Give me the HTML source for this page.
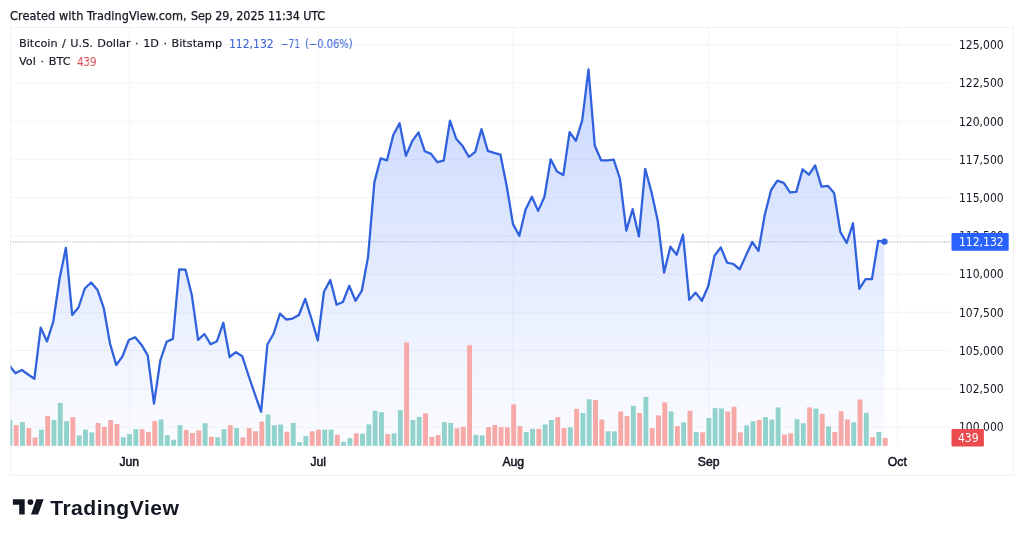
<!DOCTYPE html>
<html><head><meta charset="utf-8"><style>
html,body{margin:0;padding:0;background:#fff;width:1024px;height:539px;overflow:hidden}
.t{position:absolute;white-space:nowrap;font-family:"DejaVu Sans Condensed","DejaVu Sans",sans-serif;color:#131722}
svg{position:absolute;left:0;top:0;will-change:transform}
.t{will-change:transform;-webkit-text-stroke:0.25px currentColor}
</style></head><body>

<svg width="1024" height="539" viewBox="0 0 1024 539">
<defs><linearGradient id="g" x1="0" y1="69.4" x2="0" y2="446.0" gradientUnits="userSpaceOnUse"><stop offset="0" stop-color="#2962ff" stop-opacity="0.25"/><stop offset="1" stop-color="#2962ff" stop-opacity="0.015"/></linearGradient>
<clipPath id="pc"><rect x="10.5" y="28.0" width="940.5" height="418.0"/></clipPath></defs>
<rect x="10.5" y="27.5" width="1003" height="448" fill="none" stroke="#f1f2f4" stroke-width="1"/>
<line x1="10.5" x2="951.0" y1="44.7" y2="44.7" stroke="#f4f4f6" stroke-width="1"/>
<line x1="10.5" x2="951.0" y1="82.9" y2="82.9" stroke="#f4f4f6" stroke-width="1"/>
<line x1="10.5" x2="951.0" y1="121.2" y2="121.2" stroke="#f4f4f6" stroke-width="1"/>
<line x1="10.5" x2="951.0" y1="159.4" y2="159.4" stroke="#f4f4f6" stroke-width="1"/>
<line x1="10.5" x2="951.0" y1="197.6" y2="197.6" stroke="#f4f4f6" stroke-width="1"/>
<line x1="10.5" x2="951.0" y1="235.8" y2="235.8" stroke="#f4f4f6" stroke-width="1"/>
<line x1="10.5" x2="951.0" y1="274.1" y2="274.1" stroke="#f4f4f6" stroke-width="1"/>
<line x1="10.5" x2="951.0" y1="312.3" y2="312.3" stroke="#f4f4f6" stroke-width="1"/>
<line x1="10.5" x2="951.0" y1="350.5" y2="350.5" stroke="#f4f4f6" stroke-width="1"/>
<line x1="10.5" x2="951.0" y1="388.8" y2="388.8" stroke="#f4f4f6" stroke-width="1"/>
<line x1="10.5" x2="951.0" y1="427.0" y2="427.0" stroke="#f4f4f6" stroke-width="1"/>
<line x1="129.5" x2="129.5" y1="28.0" y2="446.0" stroke="#f4f4f6" stroke-width="1"/>
<line x1="318.3" x2="318.3" y1="28.0" y2="446.0" stroke="#f4f4f6" stroke-width="1"/>
<line x1="513.3" x2="513.3" y1="28.0" y2="446.0" stroke="#f4f4f6" stroke-width="1"/>
<line x1="708.7" x2="708.7" y1="28.0" y2="446.0" stroke="#f4f4f6" stroke-width="1"/>
<line x1="897.5" x2="897.5" y1="28.0" y2="446.0" stroke="#f4f4f6" stroke-width="1"/>
<g clip-path="url(#pc)">
<polygon points="9.2,446.0 9.2,365.5 15.5,373.3 21.8,370.0 28.1,374.5 34.4,378.8 40.7,327.7 47.0,341.4 53.3,321.5 59.6,278.5 65.9,247.8 72.2,315.0 78.5,307.5 84.8,288.5 91.1,282.5 97.4,289.7 103.7,307.8 110.0,343.5 116.2,365.0 122.5,356.3 128.8,340.0 135.1,337.2 141.4,344.7 147.7,355.4 154.0,403.7 160.3,360.5 166.6,341.8 172.9,338.9 179.2,269.4 185.5,269.7 191.8,295.0 198.1,339.8 204.4,334.0 210.7,344.3 217.0,341.2 223.3,322.8 229.6,357.0 235.9,352.2 242.2,356.2 248.5,375.5 254.8,394.0 261.1,411.9 267.4,344.5 273.7,333.5 280.0,313.7 286.3,319.5 292.6,318.6 298.9,315.0 305.2,298.9 311.5,319.0 317.8,340.4 324.0,291.7 330.3,280.0 336.6,304.7 342.9,302.0 349.2,285.8 355.5,300.8 361.8,290.7 368.1,256.6 374.4,182.1 380.7,158.3 387.0,160.3 393.3,135.0 399.6,123.3 405.9,155.8 412.2,141.2 418.5,132.4 424.8,151.3 431.1,153.9 437.4,162.2 443.7,160.7 450.0,120.7 456.3,139.0 462.6,146.1 468.9,156.8 475.2,151.9 481.5,129.1 487.8,150.9 494.1,152.9 500.4,154.6 506.7,186.0 513.0,224.1 519.3,235.8 525.6,209.5 531.9,196.8 538.1,210.9 544.4,197.0 550.7,159.3 557.0,171.6 563.3,175.1 569.6,132.1 575.9,140.9 582.2,120.4 588.5,69.4 594.8,145.8 601.1,160.3 607.4,160.4 613.7,159.7 620.0,179.0 626.3,230.6 632.6,209.2 638.9,236.4 645.2,168.8 651.5,192.2 657.8,221.0 664.1,272.5 670.4,246.7 676.7,254.7 683.0,234.8 689.3,299.8 695.6,292.6 701.9,300.8 708.2,286.2 714.5,255.7 720.8,247.5 727.1,262.6 733.4,264.0 739.7,269.3 745.9,255.6 752.2,242.0 758.5,250.8 764.8,214.7 771.1,190.0 777.4,180.6 783.7,182.9 790.0,192.3 796.3,191.9 802.6,169.3 808.9,174.7 815.2,165.5 821.5,186.6 827.8,185.8 834.1,193.0 840.4,232.2 846.7,242.9 853.0,223.3 859.3,288.9 865.6,279.2 871.9,279.2 878.2,240.8 884.5,241.6 884.5,446.0" fill="url(#g)"/>
<rect x="7.45" y="420.0" width="4.9" height="25.8" fill="#92d2cc"/>
<rect x="13.75" y="425.0" width="4.9" height="20.8" fill="#f7a9a7"/>
<rect x="20.04" y="422.1" width="4.9" height="23.7" fill="#92d2cc"/>
<rect x="26.34" y="428.1" width="4.9" height="17.7" fill="#f7a9a7"/>
<rect x="32.64" y="437.5" width="4.9" height="8.3" fill="#f7a9a7"/>
<rect x="38.93" y="429.6" width="4.9" height="16.2" fill="#92d2cc"/>
<rect x="45.23" y="416.1" width="4.9" height="29.7" fill="#f7a9a7"/>
<rect x="51.53" y="420.0" width="4.9" height="25.8" fill="#92d2cc"/>
<rect x="57.83" y="402.9" width="4.9" height="42.9" fill="#92d2cc"/>
<rect x="64.12" y="421.1" width="4.9" height="24.7" fill="#92d2cc"/>
<rect x="70.42" y="417.1" width="4.9" height="28.7" fill="#f7a9a7"/>
<rect x="76.72" y="435.4" width="4.9" height="10.4" fill="#92d2cc"/>
<rect x="83.01" y="429.6" width="4.9" height="16.2" fill="#92d2cc"/>
<rect x="89.31" y="432.3" width="4.9" height="13.5" fill="#92d2cc"/>
<rect x="95.61" y="423.0" width="4.9" height="22.8" fill="#f7a9a7"/>
<rect x="101.91" y="426.8" width="4.9" height="19.0" fill="#f7a9a7"/>
<rect x="108.20" y="420.0" width="4.9" height="25.8" fill="#f7a9a7"/>
<rect x="114.50" y="424.0" width="4.9" height="21.8" fill="#f7a9a7"/>
<rect x="120.80" y="437.2" width="4.9" height="8.6" fill="#92d2cc"/>
<rect x="127.09" y="434.1" width="4.9" height="11.7" fill="#92d2cc"/>
<rect x="133.39" y="429.2" width="4.9" height="16.6" fill="#92d2cc"/>
<rect x="139.69" y="429.1" width="4.9" height="16.7" fill="#f7a9a7"/>
<rect x="145.98" y="432.0" width="4.9" height="13.8" fill="#f7a9a7"/>
<rect x="152.28" y="421.1" width="4.9" height="24.7" fill="#f7a9a7"/>
<rect x="158.58" y="419.5" width="4.9" height="26.3" fill="#92d2cc"/>
<rect x="164.88" y="435.1" width="4.9" height="10.7" fill="#92d2cc"/>
<rect x="171.17" y="439.8" width="4.9" height="6.0" fill="#92d2cc"/>
<rect x="177.47" y="425.2" width="4.9" height="20.6" fill="#92d2cc"/>
<rect x="183.77" y="429.9" width="4.9" height="15.9" fill="#f7a9a7"/>
<rect x="190.06" y="433.0" width="4.9" height="12.8" fill="#f7a9a7"/>
<rect x="196.36" y="430.4" width="4.9" height="15.4" fill="#f7a9a7"/>
<rect x="202.66" y="423.2" width="4.9" height="22.6" fill="#92d2cc"/>
<rect x="208.95" y="436.7" width="4.9" height="9.1" fill="#f7a9a7"/>
<rect x="215.25" y="437.2" width="4.9" height="8.6" fill="#92d2cc"/>
<rect x="221.55" y="429.2" width="4.9" height="16.6" fill="#92d2cc"/>
<rect x="227.84" y="425.2" width="4.9" height="20.6" fill="#f7a9a7"/>
<rect x="234.14" y="428.1" width="4.9" height="17.7" fill="#92d2cc"/>
<rect x="240.44" y="437.5" width="4.9" height="8.3" fill="#f7a9a7"/>
<rect x="246.74" y="428.1" width="4.9" height="17.7" fill="#f7a9a7"/>
<rect x="253.03" y="431.3" width="4.9" height="14.5" fill="#f7a9a7"/>
<rect x="259.33" y="421.6" width="4.9" height="24.2" fill="#f7a9a7"/>
<rect x="265.63" y="414.6" width="4.9" height="31.2" fill="#92d2cc"/>
<rect x="271.92" y="425.2" width="4.9" height="20.6" fill="#92d2cc"/>
<rect x="278.22" y="424.5" width="4.9" height="21.3" fill="#92d2cc"/>
<rect x="284.52" y="431.7" width="4.9" height="14.1" fill="#f7a9a7"/>
<rect x="290.81" y="422.9" width="4.9" height="22.9" fill="#92d2cc"/>
<rect x="297.11" y="442.2" width="4.9" height="3.6" fill="#92d2cc"/>
<rect x="303.41" y="436.1" width="4.9" height="9.7" fill="#92d2cc"/>
<rect x="309.71" y="431.3" width="4.9" height="14.5" fill="#f7a9a7"/>
<rect x="316.00" y="429.6" width="4.9" height="16.2" fill="#f7a9a7"/>
<rect x="322.30" y="429.6" width="4.9" height="16.2" fill="#92d2cc"/>
<rect x="328.60" y="429.6" width="4.9" height="16.2" fill="#92d2cc"/>
<rect x="334.89" y="434.8" width="4.9" height="11.0" fill="#f7a9a7"/>
<rect x="341.19" y="441.8" width="4.9" height="4.0" fill="#92d2cc"/>
<rect x="347.49" y="438.2" width="4.9" height="7.6" fill="#92d2cc"/>
<rect x="353.78" y="433.3" width="4.9" height="12.5" fill="#f7a9a7"/>
<rect x="360.08" y="433.7" width="4.9" height="12.1" fill="#92d2cc"/>
<rect x="366.38" y="424.4" width="4.9" height="21.4" fill="#92d2cc"/>
<rect x="372.68" y="410.7" width="4.9" height="35.1" fill="#92d2cc"/>
<rect x="378.97" y="412.2" width="4.9" height="33.6" fill="#92d2cc"/>
<rect x="385.27" y="434.1" width="4.9" height="11.7" fill="#f7a9a7"/>
<rect x="391.57" y="433.3" width="4.9" height="12.5" fill="#92d2cc"/>
<rect x="397.86" y="410.2" width="4.9" height="35.6" fill="#92d2cc"/>
<rect x="404.16" y="342.4" width="4.9" height="103.4" fill="#f7a9a7"/>
<rect x="410.46" y="420.0" width="4.9" height="25.8" fill="#92d2cc"/>
<rect x="416.75" y="416.9" width="4.9" height="28.9" fill="#92d2cc"/>
<rect x="423.05" y="413.3" width="4.9" height="32.5" fill="#f7a9a7"/>
<rect x="429.35" y="436.9" width="4.9" height="8.9" fill="#f7a9a7"/>
<rect x="435.65" y="435.1" width="4.9" height="10.7" fill="#f7a9a7"/>
<rect x="441.94" y="422.1" width="4.9" height="23.7" fill="#92d2cc"/>
<rect x="448.24" y="422.9" width="4.9" height="22.9" fill="#92d2cc"/>
<rect x="454.54" y="428.3" width="4.9" height="17.5" fill="#f7a9a7"/>
<rect x="460.83" y="426.8" width="4.9" height="19.0" fill="#f7a9a7"/>
<rect x="467.13" y="345.2" width="4.9" height="100.6" fill="#f7a9a7"/>
<rect x="473.43" y="434.8" width="4.9" height="11.0" fill="#92d2cc"/>
<rect x="479.72" y="435.4" width="4.9" height="10.4" fill="#92d2cc"/>
<rect x="486.02" y="427.2" width="4.9" height="18.6" fill="#f7a9a7"/>
<rect x="492.32" y="425.0" width="4.9" height="20.8" fill="#f7a9a7"/>
<rect x="498.62" y="427.1" width="4.9" height="18.7" fill="#f7a9a7"/>
<rect x="504.91" y="427.3" width="4.9" height="18.5" fill="#f7a9a7"/>
<rect x="511.21" y="404.3" width="4.9" height="41.5" fill="#f7a9a7"/>
<rect x="517.51" y="426.1" width="4.9" height="19.7" fill="#f7a9a7"/>
<rect x="523.80" y="432.0" width="4.9" height="13.8" fill="#92d2cc"/>
<rect x="530.10" y="428.9" width="4.9" height="16.9" fill="#92d2cc"/>
<rect x="536.40" y="428.9" width="4.9" height="16.9" fill="#f7a9a7"/>
<rect x="542.69" y="424.4" width="4.9" height="21.4" fill="#92d2cc"/>
<rect x="548.99" y="420.0" width="4.9" height="25.8" fill="#92d2cc"/>
<rect x="555.29" y="417.1" width="4.9" height="28.7" fill="#f7a9a7"/>
<rect x="561.59" y="428.1" width="4.9" height="17.7" fill="#f7a9a7"/>
<rect x="567.88" y="427.3" width="4.9" height="18.5" fill="#92d2cc"/>
<rect x="574.18" y="408.8" width="4.9" height="37.0" fill="#f7a9a7"/>
<rect x="580.48" y="413.0" width="4.9" height="32.8" fill="#92d2cc"/>
<rect x="586.77" y="399.3" width="4.9" height="46.5" fill="#92d2cc"/>
<rect x="593.07" y="400.1" width="4.9" height="45.7" fill="#f7a9a7"/>
<rect x="599.37" y="419.5" width="4.9" height="26.3" fill="#f7a9a7"/>
<rect x="605.66" y="431.3" width="4.9" height="14.5" fill="#92d2cc"/>
<rect x="611.96" y="431.3" width="4.9" height="14.5" fill="#92d2cc"/>
<rect x="618.26" y="411.5" width="4.9" height="34.3" fill="#f7a9a7"/>
<rect x="624.56" y="416.1" width="4.9" height="29.7" fill="#f7a9a7"/>
<rect x="630.85" y="405.7" width="4.9" height="40.1" fill="#92d2cc"/>
<rect x="637.15" y="413.0" width="4.9" height="32.8" fill="#f7a9a7"/>
<rect x="643.45" y="397.0" width="4.9" height="48.8" fill="#92d2cc"/>
<rect x="649.74" y="428.1" width="4.9" height="17.7" fill="#f7a9a7"/>
<rect x="656.04" y="415.4" width="4.9" height="30.4" fill="#f7a9a7"/>
<rect x="662.34" y="402.4" width="4.9" height="43.4" fill="#f7a9a7"/>
<rect x="668.63" y="411.5" width="4.9" height="34.3" fill="#92d2cc"/>
<rect x="674.93" y="426.1" width="4.9" height="19.7" fill="#f7a9a7"/>
<rect x="681.23" y="422.3" width="4.9" height="23.5" fill="#92d2cc"/>
<rect x="687.53" y="410.7" width="4.9" height="35.1" fill="#f7a9a7"/>
<rect x="693.82" y="432.0" width="4.9" height="13.8" fill="#92d2cc"/>
<rect x="700.12" y="432.3" width="4.9" height="13.5" fill="#f7a9a7"/>
<rect x="706.42" y="418.0" width="4.9" height="27.8" fill="#92d2cc"/>
<rect x="712.71" y="408.1" width="4.9" height="37.7" fill="#92d2cc"/>
<rect x="719.01" y="408.4" width="4.9" height="37.4" fill="#92d2cc"/>
<rect x="725.31" y="411.5" width="4.9" height="34.3" fill="#f7a9a7"/>
<rect x="731.60" y="406.7" width="4.9" height="39.1" fill="#f7a9a7"/>
<rect x="737.90" y="432.3" width="4.9" height="13.5" fill="#f7a9a7"/>
<rect x="744.20" y="425.4" width="4.9" height="20.4" fill="#92d2cc"/>
<rect x="750.50" y="421.3" width="4.9" height="24.5" fill="#92d2cc"/>
<rect x="756.79" y="420.0" width="4.9" height="25.8" fill="#f7a9a7"/>
<rect x="763.09" y="417.1" width="4.9" height="28.7" fill="#92d2cc"/>
<rect x="769.39" y="419.5" width="4.9" height="26.3" fill="#92d2cc"/>
<rect x="775.68" y="407.4" width="4.9" height="38.4" fill="#92d2cc"/>
<rect x="781.98" y="434.6" width="4.9" height="11.2" fill="#f7a9a7"/>
<rect x="788.28" y="433.3" width="4.9" height="12.5" fill="#f7a9a7"/>
<rect x="794.57" y="419.2" width="4.9" height="26.6" fill="#92d2cc"/>
<rect x="800.87" y="423.2" width="4.9" height="22.6" fill="#92d2cc"/>
<rect x="807.17" y="407.4" width="4.9" height="38.4" fill="#f7a9a7"/>
<rect x="813.47" y="408.6" width="4.9" height="37.2" fill="#92d2cc"/>
<rect x="819.76" y="413.8" width="4.9" height="32.0" fill="#f7a9a7"/>
<rect x="826.06" y="426.3" width="4.9" height="19.5" fill="#92d2cc"/>
<rect x="832.36" y="432.0" width="4.9" height="13.8" fill="#f7a9a7"/>
<rect x="838.65" y="411.2" width="4.9" height="34.6" fill="#f7a9a7"/>
<rect x="844.95" y="419.5" width="4.9" height="26.3" fill="#f7a9a7"/>
<rect x="851.25" y="422.3" width="4.9" height="23.5" fill="#92d2cc"/>
<rect x="857.54" y="399.5" width="4.9" height="46.3" fill="#f7a9a7"/>
<rect x="863.84" y="412.8" width="4.9" height="33.0" fill="#92d2cc"/>
<rect x="870.14" y="437.2" width="4.9" height="8.6" fill="#f7a9a7"/>
<rect x="876.44" y="432.0" width="4.9" height="13.8" fill="#92d2cc"/>
<rect x="882.73" y="437.9" width="4.9" height="7.9" fill="#f7a9a7"/>
<line x1="10.5" x2="951.0" y1="241.9" y2="241.9" stroke="#a3aac4" stroke-width="1" stroke-dasharray="1.2 1.25"/>
<polyline points="9.2,365.5 15.5,373.3 21.8,370.0 28.1,374.5 34.4,378.8 40.7,327.7 47.0,341.4 53.3,321.5 59.6,278.5 65.9,247.8 72.2,315.0 78.5,307.5 84.8,288.5 91.1,282.5 97.4,289.7 103.7,307.8 110.0,343.5 116.2,365.0 122.5,356.3 128.8,340.0 135.1,337.2 141.4,344.7 147.7,355.4 154.0,403.7 160.3,360.5 166.6,341.8 172.9,338.9 179.2,269.4 185.5,269.7 191.8,295.0 198.1,339.8 204.4,334.0 210.7,344.3 217.0,341.2 223.3,322.8 229.6,357.0 235.9,352.2 242.2,356.2 248.5,375.5 254.8,394.0 261.1,411.9 267.4,344.5 273.7,333.5 280.0,313.7 286.3,319.5 292.6,318.6 298.9,315.0 305.2,298.9 311.5,319.0 317.8,340.4 324.0,291.7 330.3,280.0 336.6,304.7 342.9,302.0 349.2,285.8 355.5,300.8 361.8,290.7 368.1,256.6 374.4,182.1 380.7,158.3 387.0,160.3 393.3,135.0 399.6,123.3 405.9,155.8 412.2,141.2 418.5,132.4 424.8,151.3 431.1,153.9 437.4,162.2 443.7,160.7 450.0,120.7 456.3,139.0 462.6,146.1 468.9,156.8 475.2,151.9 481.5,129.1 487.8,150.9 494.1,152.9 500.4,154.6 506.7,186.0 513.0,224.1 519.3,235.8 525.6,209.5 531.9,196.8 538.1,210.9 544.4,197.0 550.7,159.3 557.0,171.6 563.3,175.1 569.6,132.1 575.9,140.9 582.2,120.4 588.5,69.4 594.8,145.8 601.1,160.3 607.4,160.4 613.7,159.7 620.0,179.0 626.3,230.6 632.6,209.2 638.9,236.4 645.2,168.8 651.5,192.2 657.8,221.0 664.1,272.5 670.4,246.7 676.7,254.7 683.0,234.8 689.3,299.8 695.6,292.6 701.9,300.8 708.2,286.2 714.5,255.7 720.8,247.5 727.1,262.6 733.4,264.0 739.7,269.3 745.9,255.6 752.2,242.0 758.5,250.8 764.8,214.7 771.1,190.0 777.4,180.6 783.7,182.9 790.0,192.3 796.3,191.9 802.6,169.3 808.9,174.7 815.2,165.5 821.5,186.6 827.8,185.8 834.1,193.0 840.4,232.2 846.7,242.9 853.0,223.3 859.3,288.9 865.6,279.2 871.9,279.2 878.2,240.8 884.5,241.6" fill="none" stroke="#3062dd" stroke-width="2.3" stroke-linejoin="round" stroke-linecap="round"/>
<circle cx="884.5" cy="241.6" r="3.2" fill="#3062dd"/>
</g>
<text x="959" y="49.0" font-family="DejaVu Sans Condensed, DejaVu Sans, sans-serif" font-size="12" fill="#131722">125,000</text>
<text x="959" y="87.2" font-family="DejaVu Sans Condensed, DejaVu Sans, sans-serif" font-size="12" fill="#131722">122,500</text>
<text x="959" y="125.5" font-family="DejaVu Sans Condensed, DejaVu Sans, sans-serif" font-size="12" fill="#131722">120,000</text>
<text x="959" y="163.7" font-family="DejaVu Sans Condensed, DejaVu Sans, sans-serif" font-size="12" fill="#131722">117,500</text>
<text x="959" y="201.9" font-family="DejaVu Sans Condensed, DejaVu Sans, sans-serif" font-size="12" fill="#131722">115,000</text>
<text x="959" y="240.1" font-family="DejaVu Sans Condensed, DejaVu Sans, sans-serif" font-size="12" fill="#131722">112,500</text>
<text x="959" y="278.4" font-family="DejaVu Sans Condensed, DejaVu Sans, sans-serif" font-size="12" fill="#131722">110,000</text>
<text x="959" y="316.6" font-family="DejaVu Sans Condensed, DejaVu Sans, sans-serif" font-size="12" fill="#131722">107,500</text>
<text x="959" y="354.8" font-family="DejaVu Sans Condensed, DejaVu Sans, sans-serif" font-size="12" fill="#131722">105,000</text>
<text x="959" y="393.1" font-family="DejaVu Sans Condensed, DejaVu Sans, sans-serif" font-size="12" fill="#131722">102,500</text>
<text x="959" y="431.3" font-family="DejaVu Sans Condensed, DejaVu Sans, sans-serif" font-size="12" fill="#131722">100,000</text>
<rect x="951.5" y="232.9" width="57.2" height="17.9" rx="1.2" fill="#2962ff"/>
<text x="959" y="246.1" font-family="DejaVu Sans Condensed, DejaVu Sans, sans-serif" font-size="12" fill="#fff">112,132</text>
<rect x="951.5" y="429" width="32.4" height="17.5" rx="1" fill="#ec4b4e"/>
<text x="958" y="442" font-family="DejaVu Sans Condensed, DejaVu Sans, sans-serif" font-size="12" fill="#fff">439</text>
<text x="129.3" y="465.7" text-anchor="middle" font-family="Liberation Sans, sans-serif" font-size="12.2" fill="#131722" stroke="#131722" stroke-width="0.5">Jun</text>
<text x="318.3" y="465.7" text-anchor="middle" font-family="Liberation Sans, sans-serif" font-size="12.2" fill="#131722" stroke="#131722" stroke-width="0.5">Jul</text>
<text x="513.3" y="465.7" text-anchor="middle" font-family="Liberation Sans, sans-serif" font-size="12.2" fill="#131722" stroke="#131722" stroke-width="0.5">Aug</text>
<text x="708.7" y="465.7" text-anchor="middle" font-family="Liberation Sans, sans-serif" font-size="12.2" fill="#131722" stroke="#131722" stroke-width="0.5">Sep</text>
<text x="897.3" y="465.7" text-anchor="middle" font-family="Liberation Sans, sans-serif" font-size="12.2" fill="#131722" stroke="#131722" stroke-width="0.5">Oct</text>
<g fill="#131722"><path d="M12.86,499.3H24.7V514.6H19.2V504.8H12.86Z"/><circle cx="30.4" cy="502.1" r="2.85"/><path d="M36.3,499.3H43.6L38.1,514.6H31Z"/></g>
<text x="50.2" y="514.5" font-family="Liberation Sans, sans-serif" font-weight="bold" font-size="21.1" letter-spacing="0.48" fill="#131722">TradingView</text>
</svg>
<div class="t" style="left:10.4px;top:7.9px;font-size:12.55px;letter-spacing:0.1px">Created with TradingView.com,</div>
<div class="t" style="left:190.8px;top:8.0px;font-size:12.4px;letter-spacing:-0.06px">Sep 29, 2025 11:34 UTC</div>
<div class="t" style="left:18.9px;top:37.4px;font-size:11.25px;word-spacing:0.9px;font-family:'DejaVu Sans',sans-serif;-webkit-text-stroke:0.15px currentColor">Bitcoin / U.S. Dollar · 1D · Bitstamp</div>
<div class="t" style="left:229.3px;top:37.4px;font-size:12px;color:#4169d8;-webkit-text-stroke:0.1px currentColor">112,132</div>
<div class="t" style="left:281.2px;top:37.4px;font-size:12px;color:#4169d8;-webkit-text-stroke:0.1px currentColor;transform:scaleX(0.83);transform-origin:0 0">−71</div>
<div class="t" style="left:304.8px;top:37.4px;font-size:12px;color:#4169d8;-webkit-text-stroke:0.1px currentColor;transform:scaleX(0.92);transform-origin:0 0">(−0.06%)</div>
<div class="t" style="left:18.9px;top:54.9px;font-size:11.25px;word-spacing:1.1px;font-family:'DejaVu Sans',sans-serif;-webkit-text-stroke:0.15px currentColor">Vol · BTC</div>
<div class="t" style="left:77.4px;top:54.6px;font-size:12px;color:#d9525b;-webkit-text-stroke:0.1px currentColor;transform:scaleX(0.95);transform-origin:0 0">439</div>
</body></html>
